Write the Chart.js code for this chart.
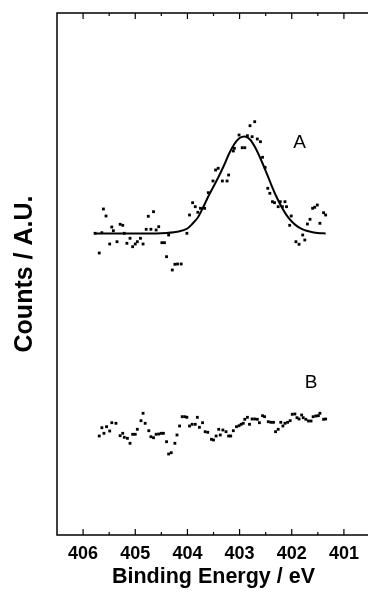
<!DOCTYPE html>
<html>
<head>
<meta charset="utf-8">
<script src="https://cdn.jsdelivr.net/npm/chart.js@4.4.1/dist/chart.umd.min.js"></script>
<style>
  html, body { margin: 0; padding: 0; overflow: hidden; background: #fff; }
  #wrap { width: 374px; height: 595px; }
</style>
</head>
<body>
<div id="wrap"><canvas id="xps"></canvas></div>
<script>
// spectrum A (measured points)
const aEnergy = [405.77, 405.69, 405.64, 405.61, 405.56, 405.49, 405.45, 405.42, 405.35, 405.29,
  405.24, 405.21, 405.16, 405.10, 405.05, 405.00, 404.96, 404.90, 404.85, 404.79,
  404.75, 404.70, 404.65, 404.60, 404.55, 404.49, 404.44, 404.40, 404.36, 404.29,
  404.24, 404.19, 404.12, 404.01, 403.96, 403.90, 403.85, 403.80, 403.75, 403.67,
  403.60, 403.51, 403.46, 403.41, 403.33, 403.24, 403.21, 403.12, 403.10, 403.01,
  402.95, 402.90, 402.85, 402.80, 402.76, 402.71, 402.66, 402.60, 402.56, 402.51,
  402.46, 402.42, 402.37, 402.33, 402.26, 402.22, 402.18, 402.13, 402.10, 402.04,
  402.01, 401.92, 401.86, 401.79, 401.75, 401.70, 401.65, 401.60, 401.56, 401.51,
  401.46, 401.39, 401.35];
const aCounts = [301.7, 282, 302.3, 326, 319, 291, 308, 304.3, 293.3, 310.7,
  309.7, 301.7, 291.7, 296.7, 288.3, 291, 293.3, 296.7, 291, 305.7,
  318.7, 305.7, 323.3, 305, 308.3, 292.3, 292.3, 278.3, 300, 265,
  270.7, 271, 271, 301.7, 320, 332.3, 328.3, 322.7, 326.7, 326.7,
  342.3, 354, 365, 366.7, 354, 354, 360, 384, 386.7, 400,
  387.3, 387.3, 399.3, 409.3, 398.3, 413.3, 396, 393.3, 377.7, 367.7,
  346.7, 341.7, 333.3, 332.3, 328.3, 333.3, 328.3, 333.3, 328.3, 309.7,
  319, 293.3, 290.7, 300, 295, 311, 315.7, 326.7, 327.7, 330,
  311.7, 322.3, 320];

// fitted peak for A
const fitEnergy = [405.77, 405.0, 404.5, 404.2, 404.0, 403.9, 403.8, 403.7, 403.6, 403.5,
  403.4, 403.3, 403.2, 403.1, 403.0, 402.9, 402.8, 402.7, 402.6, 402.5,
  402.4, 402.3, 402.2, 402.1, 402.0, 401.9, 401.8, 401.7, 401.6, 401.5, 401.35];
const fitCounts = [301.5, 301.5, 301.8, 303.2, 306.5, 311.5, 317.5, 327.5, 338.5, 348.5,
  358.5, 369.5, 381.5, 391, 397, 398.5, 395.5, 387.5, 376.5, 364.2,
  351.2, 339, 328.5, 319.9, 313.5, 308.9, 305.9, 304, 302.8, 302, 301.5];

// spectrum B
const bEnergy = [405.69, 405.64, 405.60, 405.55, 405.49, 405.45, 405.37, 405.29, 405.24, 405.21,
  405.15, 405.10, 405.05, 405.00, 404.96, 404.89, 404.85, 404.81, 404.74, 404.70,
  404.65, 404.60, 404.55, 404.50, 404.46, 404.40, 404.36, 404.31, 404.24, 404.20,
  404.15, 404.10, 404.05, 404.01, 403.96, 403.91, 403.85, 403.81, 403.77, 403.71,
  403.66, 403.61, 403.54, 403.50, 403.45, 403.40, 403.37, 403.32, 403.26, 403.21,
  403.17, 403.12, 403.06, 403.01, 402.97, 402.93, 402.90, 402.85, 402.81, 402.76,
  402.71, 402.66, 402.62, 402.56, 402.52, 402.45, 402.40, 402.35, 402.31, 402.26,
  402.21, 402.17, 402.13, 402.08, 402.03, 401.99, 401.94, 401.90, 401.86, 401.81,
  401.78, 401.73, 401.68, 401.63, 401.59, 401.54, 401.49, 401.46, 401.39, 401.35];
const bCounts = [99, 107.3, 101.7, 108.3, 104, 112.3, 111.7, 99.3, 101.7, 97.7,
  96.7, 91.7, 100.7, 100.7, 105.7, 114.3, 121.7, 111.7, 104.3, 98.3,
  97.3, 100.7, 101, 101.7, 101.7, 93.3, 81, 82.3, 91.7, 100,
  109, 118.3, 118.3, 117.7, 109, 110.7, 110.7, 117.7, 107.7, 112.3,
  103.3, 102.7, 95.7, 95, 99, 105.7, 100, 105, 103.3, 99,
  99, 104.3, 108.3, 109.3, 110.7, 111.7, 115.7, 117.7, 110.7, 116,
  116, 115.7, 112.3, 119.3, 118.3, 113.3, 112.7, 112.7, 103.3, 105.7,
  112.7, 109, 111.7, 112.7, 114.3, 120.7, 121, 117.3, 116, 120,
  117.3, 115.7, 114, 114, 118.3, 119, 119.3, 121.7, 115.7, 116];

const xTicks = [406, 405, 404, 403, 402, 401];
const xMinor = [405.5, 404.5, 403.5, 402.5, 401.5];
const curveLabels = [
  { text: 'A', x: 401.85, y: 392 },
  { text: 'B', x: 401.63, y: 152 }
];

const FONT = "'Liberation Sans', Arial, sans-serif";

function toPoints(xs, ys) {
  return xs.map((x, i) => ({ x, y: ys[i] }));
}

// box + inward ticks on top and bottom, and the A / B tags
const frameAndTicks = {
  id: 'frameAndTicks',
  afterDraw(chart) {
    const { ctx, chartArea: a, scales } = chart;
    const xs = scales.x;
    ctx.save();
    ctx.strokeStyle = '#000';
    ctx.lineWidth = 1.5;
    ctx.strokeRect(a.left, a.top, a.right - a.left, a.bottom - a.top);
    ctx.lineWidth = 1.2;
    ctx.beginPath();
    const mark = (v, len) => {
      const px = xs.getPixelForValue(v);
      ctx.moveTo(px, a.top); ctx.lineTo(px, a.top + len);
      ctx.moveTo(px, a.bottom); ctx.lineTo(px, a.bottom - len);
    };
    xTicks.forEach(v => mark(v, 6));
    xMinor.forEach(v => mark(v, 3));
    ctx.stroke();

    ctx.fillStyle = '#000';
    ctx.font = `19px ${FONT}`;
    ctx.textAlign = 'center';
    ctx.textBaseline = 'middle';
    curveLabels.forEach(l => {
      ctx.fillText(l.text, xs.getPixelForValue(l.x), scales.y.getPixelForValue(l.y));
    });
    ctx.restore();
  }
};

new Chart(document.getElementById('xps'), {
  type: 'scatter',
  data: {
    datasets: [
      {
        data: toPoints(fitEnergy, fitCounts),
        showLine: true,
        borderColor: '#000',
        borderWidth: 2,
        pointRadius: 0,
        cubicInterpolationMode: 'monotone'
      },
      {
        data: toPoints(aEnergy, aCounts),
        pointStyle: 'rect',
        pointRadius: 2,
        pointBorderWidth: 0,
        backgroundColor: '#000'
      },
      {
        data: toPoints(bEnergy, bCounts),
        pointStyle: 'rect',
        pointRadius: 2,
        pointBorderWidth: 0,
        backgroundColor: '#000'
      }
    ]
  },
  options: {
    responsive: true,
    maintainAspectRatio: false,
    animation: false,
    layout: { padding: { top: 13, right: 0, bottom: 0, left: 0 } },
    plugins: { legend: { display: false }, tooltip: { enabled: false } },
    scales: {
      x: {
        type: 'linear',
        reverse: true,
        min: 400.5,
        max: 406.5,
        grid: { display: false },
        border: { display: false },
        afterBuildTicks: s => { s.ticks = xTicks.map(v => ({ value: v })); },
        afterFit: s => { s.height = 60; },
        ticks: {
          color: '#000',
          padding: 0,
          maxRotation: 0,
          font: { family: FONT, size: 18, weight: 'bold' }
        },
        title: {
          display: true,
          text: 'Binding Energy / eV',
          color: '#000',
          padding: { top: 0, bottom: 5 },
          font: { family: FONT, size: 21.5, weight: 'bold' }
        }
      },
      y: {
        min: 0,
        max: 522,
        grid: { display: false },
        border: { display: false },
        ticks: { display: false },
        afterFit: s => { s.width = 57; },
        title: {
          display: true,
          text: 'Counts / A.U.',
          color: '#000',
          padding: { top: 10, bottom: 0 },
          font: { family: FONT, size: 25, weight: 'bold' }
        }
      }
    }
  },
  plugins: [frameAndTicks]
});
</script>
</body>
</html>
